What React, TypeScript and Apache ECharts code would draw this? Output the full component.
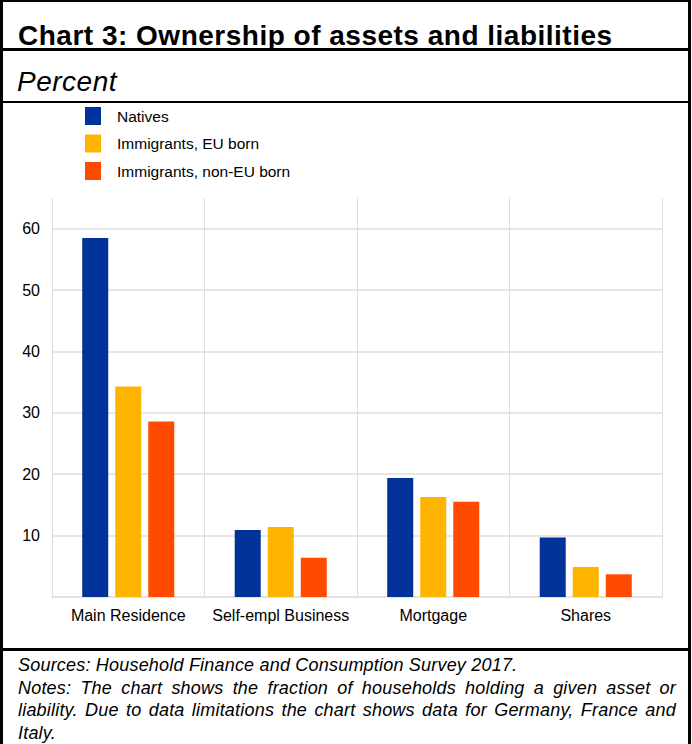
import React, { useEffect, useRef } from "react";
import * as echarts from "echarts";

const categories = ["Main Residence", "Self-empl Business", "Mortgage", "Shares"];
const seriesNames = ["Natives", "Immigrants, EU born", "Immigrants, non-EU born"];
const natives = [58.5, 10.9, 19.4, 9.7];
const euBorn = [34.3, 11.4, 16.3, 4.9];
const nonEuBorn = [28.6, 6.4, 15.5, 3.7];
const seriesColors = ["#003299", "#ffb400", "#ff4b00"];

const titleText = "Chart 3: Ownership of assets and liabilities";
const unitText = "Percent";
const sourcesText = "Sources: Household Finance and Consumption Survey 2017.";
const notesText =
  "Notes: The chart shows the fraction of households holding a given asset or liability. Due to data limitations the chart shows data for Germany, France and Italy.";

const FONT = "'Liberation Sans', Arial, Helvetica, sans-serif";

function Chart() {
  const ref = useRef<HTMLDivElement>(null);
  useEffect(() => {
    if (!ref.current) return;
    const chart = echarts.init(ref.current, undefined, { renderer: "svg" });
    const data = [natives, euBorn, nonEuBorn];
    chart.setOption({
      animation: false,
      textStyle: { fontFamily: FONT },
      legend: {
        orient: "vertical",
        left: 82,
        top: 4,
        padding: 0,
        itemWidth: 16,
        itemHeight: 18,
        itemGap: 9.5,
        icon: "rect",
        data: seriesNames,
        textStyle: {
          fontFamily: FONT,
          fontSize: 15.5,
          color: "#000",
          padding: [0, 0, 0, 11],
        },
      },
      grid: { left: 49, right: 26, top: 95, bottom: 51, containLabel: false },
      xAxis: {
        type: "category",
        data: categories,
        axisLine: { show: true, lineStyle: { color: "#d9d9d9", width: 1.5 } },
        axisTick: { show: false },
        splitLine: { show: true, interval: 0, lineStyle: { color: "#dedede", width: 1 } },
        axisLabel: {
          interval: 0,
          margin: 10,
          fontFamily: FONT,
          fontSize: 16,
          color: "#000",
        },
      },
      yAxis: {
        type: "value",
        min: 0,
        max: 65,
        interval: 10,
        axisLine: { show: false },
        axisTick: { show: false },
        splitLine: {
          show: true,
          showMinLine: false,
          showMaxLine: false,
          lineStyle: { color: "#dedede", width: 1.5 },
        },
        axisLabel: {
          showMinLabel: false,
          showMaxLabel: false,
          margin: 12,
          fontFamily: FONT,
          fontSize: 16,
          color: "#000",
        },
      },
      series: seriesNames.map((name, i) => ({
        name,
        type: "bar",
        data: data[i],
        barWidth: 26,
        barGap: "27%",
        itemStyle: { color: seriesColors[i] },
      })),
    });
    return () => chart.dispose();
  }, []);
  return (
    <div
      ref={ref}
      style={{ position: "absolute", left: 3, top: 103, width: 685, height: 545 }}
    />
  );
}

export default function App() {
  const line = (top: number, height: number) => ({
    position: "absolute" as const,
    left: 0,
    top,
    width: 691,
    height,
    background: "#000",
  });
  return (
    <div
      style={{
        position: "absolute",
        left: 0,
        top: 0,
        width: 692,
        height: 744,
        background: "#fff",
        overflow: "hidden",
        fontFamily: FONT,
        color: "#000",
      }}
    >
      <div style={line(0, 2)} />
      <div style={line(48, 2.5)} />
      <div style={line(101, 2)} />
      <div style={line(648, 2.5)} />
      <div style={{ position: "absolute", left: 0, top: 0, width: 3, height: 744, background: "#000" }} />
      <div style={{ position: "absolute", left: 688, top: 0, width: 3, height: 744, background: "#000" }} />
      <div
        style={{
          position: "absolute",
          left: 18,
          top: 22,
          fontSize: 28,
          lineHeight: "28px",
          fontWeight: "bold",
          letterSpacing: "0.5px",
          whiteSpace: "nowrap",
        }}
      >
        {titleText}
      </div>
      <div
        style={{
          position: "absolute",
          left: 17,
          top: 68,
          fontSize: 28,
          lineHeight: "28px",
          fontStyle: "italic",
          letterSpacing: "0.5px",
          whiteSpace: "nowrap",
        }}
      >
        {unitText}
      </div>
      <Chart />
      <div
        style={{
          position: "absolute",
          left: 18,
          top: 654,
          width: 658,
          fontSize: 18,
          lineHeight: "22.5px",
          fontStyle: "italic",
          letterSpacing: "0.2px",
          textAlign: "justify",
        }}
      >
        <div>{sourcesText}</div>
        <div>{notesText}</div>
      </div>
    </div>
  );
}
